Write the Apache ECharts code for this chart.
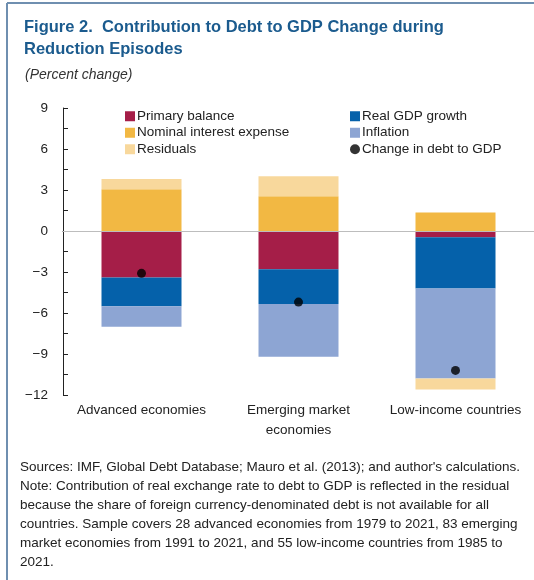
<!DOCTYPE html>
<html>
<head>
<meta charset="utf-8">
<script src="https://cdn.jsdelivr.net/npm/echarts@6/dist/echarts.min.js"></script>
<style>
  html, body { margin: 0; padding: 0; background: #fff; }
  #chart { width: 534px; height: 580px; }
</style>
</head>
<body>
<div id="chart"></div>
<script>
// groups on the x axis
var categories = ['Advanced economies', 'Emerging market\neconomies', 'Low-income countries']

// contributions, percent change
var primaryBalance = [-3.4, -2.8, -0.45]
var interestExpense = [3.05, 2.55, 1.35]
var realGdpGrowth = [-2.1, -2.55, -3.75]
var inflation = [-1.5, -3.85, -6.6]
var residuals = [0.75, 1.45, -0.8]
var debtChange = [-3.1, -5.2, -10.2]

var yTicks = [-12, -9, -6, -3, 0, 3, 6, 9]

var font = "'Liberation Sans', Arial, sans-serif"
var colors = {
  primary: '#A51E48',
  interest: '#F2B843',
  gdp: '#0561AA',
  inflation: '#8DA5D3',
  residual: '#F8D89C'
}

var chart = echarts.init(document.getElementById('chart'))

function barSeries(name, data, color) {
  return {
    name: name,
    type: 'bar',
    stack: 'total',
    barWidth: 80,
    data: data,
    itemStyle: { color: color }
  }
}

var primary = barSeries('Primary balance', primaryBalance, colors.primary)
// grey line at zero
primary.markLine = {
  silent: true,
  symbol: 'none',
  label: { show: false },
  lineStyle: { color: '#bdbdbd', width: 1, type: 'solid' },
  data: [{ yAxis: 0 }]
}

var legendText = { fontFamily: font, fontSize: 13.5, color: '#222', lineHeight: 16.5, padding: [0, 0, 0, -3] }

var options = {
  backgroundColor: '#fff',
  animation: false,
  textStyle: { fontFamily: font },
  title: [
    {
      text: 'Figure 2.  Contribution to Debt to GDP Change during\nReduction Episodes',
      left: 19,
      top: 11,
      textStyle: { fontFamily: font, fontSize: 16.5, fontWeight: 'bold', color: '#1B5B8E', lineHeight: 22 }
    },
    {
      text: '(Percent change)',
      left: 20,
      top: 63,
      textStyle: { fontFamily: font, fontSize: 14, fontStyle: 'italic', fontWeight: 'normal', color: '#333' }
    }
  ],
  legend: [
    {
      orient: 'vertical',
      left: 120,
      top: 103,
      itemWidth: 10,
      itemHeight: 10,
      itemGap: 0,
      textStyle: legendText,
      data: [
        { name: 'Primary balance', icon: 'rect' },
        { name: 'Nominal interest expense', icon: 'rect' },
        { name: 'Residuals', icon: 'rect' }
      ]
    },
    {
      orient: 'vertical',
      left: 345,
      top: 103,
      itemWidth: 10,
      itemHeight: 10,
      itemGap: 0,
      textStyle: legendText,
      data: [
        { name: 'Real GDP growth', icon: 'rect' },
        { name: 'Inflation', icon: 'rect' },
        { name: 'Change in debt to GDP', icon: 'circle' }
      ]
    }
  ],
  grid: {
    left: 63,
    top: 108,
    width: 480,
    height: 287
  },
  xAxis: {
    type: 'category',
    data: categories,
    axisLine: { lineStyle: { color: '#222', width: 1 } },
    axisTick: { inside: true, length: 5, lineStyle: { color: '#222' } },
    axisLabel: { interval: 0, fontFamily: font, fontSize: 13.5, color: '#222', margin: 5, lineHeight: 20 }
  },
  yAxis: {
    type: 'value',
    min: -12,
    max: 9,
    interval: 1.5,
    splitLine: { show: false },
    axisLine: { show: true, lineStyle: { color: '#222' } },
    axisTick: { show: true, inside: true, length: 5, lineStyle: { color: '#222' } },
    axisLabel: {
      fontFamily: font,
      fontSize: 13.5,
      color: '#222',
      margin: 15,
      formatter: function (v) {
        if (yTicks.indexOf(v) < 0) return ''
        return v < 0 ? '\u2212' + Math.abs(v) : String(v)
      }
    }
  },
  series: [
    primary,
    barSeries('Nominal interest expense', interestExpense, colors.interest),
    barSeries('Real GDP growth', realGdpGrowth, colors.gdp),
    barSeries('Inflation', inflation, colors.inflation),
    barSeries('Residuals', residuals, colors.residual),
    {
      name: 'Change in debt to GDP',
      type: 'scatter',
      symbolSize: 9,
      z: 5,
      itemStyle: { color: '#000' },
      data: debtChange
    }
  ],
  graphic: [
    // frame lines
    { type: 'line', shape: { x1: 7, y1: 3, x2: 534, y2: 3 }, style: { stroke: '#6F8FB0', lineWidth: 2 } },
    { type: 'line', shape: { x1: 7, y1: 3, x2: 7, y2: 580 }, style: { stroke: '#6F8FB0', lineWidth: 2 } },
    {
      type: 'text',
      left: 20,
      top: 458,
      style: {
        text: "Sources: IMF, Global Debt Database; Mauro et al. (2013); and author's calculations.\n" +
          'Note: Contribution of real exchange rate to debt to GDP is reflected in the residual\n' +
          'because the share of foreign currency-denominated debt is not available for all\n' +
          'countries. Sample covers 28 advanced economies from 1979 to 2021, 83 emerging\n' +
          'market economies from 1991 to 2021, and 55 low-income countries from 1985 to\n' +
          '2021.',
        font: '13.5px ' + font,
        fill: '#222',
        lineHeight: 19
      }
    }
  ]
}

chart.setOption(options)
</script>
</body>
</html>
